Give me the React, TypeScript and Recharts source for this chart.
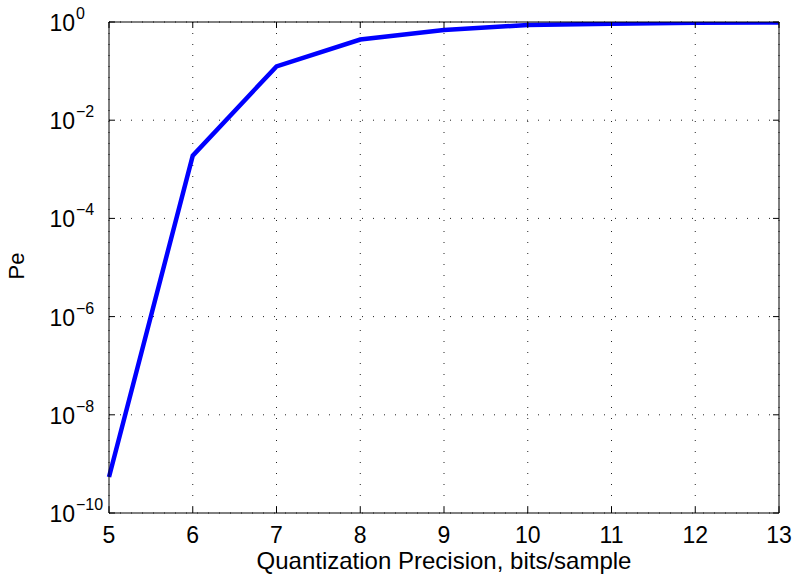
import { LineChart, Line, XAxis, YAxis, CartesianGrid, Label } from "recharts";

const precisionBits = [5, 6, 7, 8, 9, 10, 11, 12, 13];
const errorProb = [5.4e-10, 1.9e-3, 0.125, 0.44, 0.69, 0.87, 0.92, 0.96, 0.98];
const yTickValues = [1e-10, 1e-8, 1e-6, 1e-4, 1e-2, 1];
const yTickExponents = ["\u221210", "\u22128", "\u22126", "\u22124", "\u22122", "0"];

const data = precisionBits.map((x, i) => ({ x, pe: errorProb[i] }));

const FONT = "'Liberation Sans', Arial, Helvetica, sans-serif";

function LeftTick(props: any) {
  const { x, y, index } = props;
  return (
    <g>
      <line x1={x} x2={x + 6} y1={y} y2={y} stroke="#000" strokeWidth={1} />
      <text x={x - 34} y={y + 9} textAnchor="end" fontSize={23} fontFamily={FONT} fill="#000">
        10
      </text>
      <text x={x - 33} y={y - 3} textAnchor="start" fontSize={16} fontFamily={FONT} fill="#000">
        {yTickExponents[index]}
      </text>
    </g>
  );
}

function RightTick(props: any) {
  const { x, y } = props;
  return <line x1={x} x2={x - 6} y1={y} y2={y} stroke="#000" strokeWidth={1} />;
}

function BottomTick(props: any) {
  const { x, y, payload } = props;
  return (
    <g>
      <line x1={x} x2={x} y1={y} y2={y - 6} stroke="#000" strokeWidth={1} />
      <text x={x} y={y + 30} textAnchor="middle" fontSize={23} fontFamily={FONT} fill="#000">
        {payload.value}
      </text>
    </g>
  );
}

function TopTick(props: any) {
  const { x, y } = props;
  return <line x1={x} x2={x} y1={y} y2={y + 6} stroke="#000" strokeWidth={1} />;
}

export default function App() {
  return (
    <div style={{ position: "absolute", left: 0, top: 0, width: 796, height: 582, background: "#fff" }}>
      <LineChart width={796} height={582} data={data} margin={{ top: 21, right: 16, bottom: 0, left: 0 }}>
        <CartesianGrid stroke="#222" strokeDasharray="1 10" strokeWidth={1} />
        <XAxis
          dataKey="x"
          type="number"
          domain={[5, 13]}
          ticks={precisionBits}
          height={69}
          tickSize={0}
          tickMargin={0}
          tickLine={false}
          tick={<BottomTick />}
          axisLine={{ stroke: "#000", strokeWidth: 1 }}
          interval={0}
        >
          <Label
            content={(p: any) => {
              const vb = p.viewBox;
              return (
                <text x={vb.x + vb.width / 2} y={vb.y + 56} textAnchor="middle" fontSize={24} fontFamily={FONT} fill="#000">
                  Quantization Precision, bits/sample
                </text>
              );
            }}
          />
        </XAxis>
        <XAxis
          xAxisId="top"
          orientation="top"
          dataKey="x"
          type="number"
          domain={[5, 13]}
          ticks={precisionBits}
          height={1}
          tickSize={0}
          tickMargin={0}
          tickLine={false}
          tick={<TopTick />}
          axisLine={{ stroke: "#000", strokeWidth: 1 }}
          interval={0}
        />
        <YAxis
          scale="log"
          type="number"
          domain={[1e-10, 1]}
          allowDataOverflow
          ticks={yTickValues}
          width={109}
          tickSize={0}
          tickMargin={0}
          tickLine={false}
          tick={<LeftTick />}
          axisLine={{ stroke: "#000", strokeWidth: 1 }}
          interval={0}
        >
          <Label
            content={() => (
              <text x={24} y={266} transform="rotate(-90, 24, 266)" textAnchor="middle" fontSize={22} fontFamily={FONT} fill="#000">
                Pe
              </text>
            )}
          />
        </YAxis>
        <YAxis
          yAxisId="right"
          orientation="right"
          scale="log"
          type="number"
          domain={[1e-10, 1]}
          allowDataOverflow
          ticks={yTickValues}
          width={1}
          tickSize={0}
          tickMargin={0}
          tickLine={false}
          tick={<RightTick />}
          axisLine={{ stroke: "#000", strokeWidth: 1 }}
          interval={0}
        />
        <Line
          type="linear"
          dataKey="pe"
          stroke="#0000ff"
          strokeWidth={4.5}
          dot={false}
          isAnimationActive={false}
        />
      </LineChart>
    </div>
  );
}
